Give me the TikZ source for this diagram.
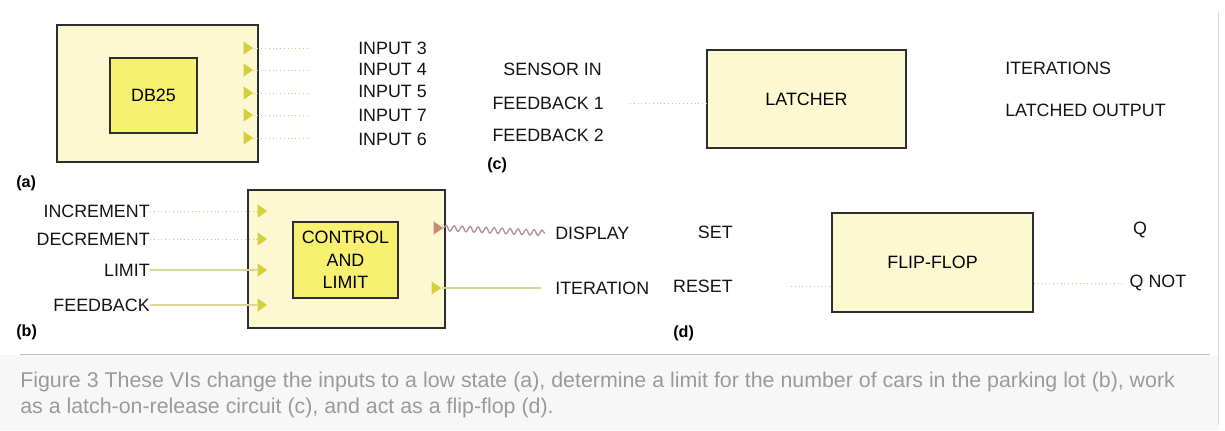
\documentclass[tikz,border=0pt]{standalone}
\usepackage{fontspec}
\setmainfont{Liberation Sans}
\usepackage{xcolor}
\usepackage{tikz}
\usetikzlibrary{shapes.geometric,positioning,calc,decorations.pathmorphing}

\definecolor{paleyel}{HTML}{FCF9D2}
\definecolor{brightyel}{HTML}{F8F070}
\definecolor{pinyel}{HTML}{D6CF3A}
\definecolor{wireyel}{HTML}{D8D49A}
\definecolor{pinred}{HTML}{C98A78}
\definecolor{wirered}{HTML}{B48C96}
\definecolor{frame}{HTML}{2E2E2E}
\definecolor{captgray}{HTML}{9A9A9A}

\tikzset{
	vibox/.style={draw=frame, line width=1.4pt, fill=paleyel, inner sep=0pt},
	subvi/.style={draw=frame, line width=1.4pt, fill=brightyel, inner sep=0pt, align=center},
	pin/.style={isosceles triangle, isosceles triangle apex angle=70, fill=pinyel, inner sep=0pt, minimum height=0.24cm, minimum width=0.18cm},
	lbl/.style={inner sep=0pt, text=black!92, font=\fontsize{12.7}{14}\selectfont},
	tag/.style={inner sep=0pt, font=\bfseries\fontsize{11.5}{13}\selectfont},
	dotwire/.style={draw=wireyel!80!gray, line width=0.7pt, dotted},
	solwire/.style={draw=wireyel, line width=1pt}
}

\begin{document}
\begin{tikzpicture}[x=0.025cm, y=-0.025cm]
		\useasboundingbox (0,0) rectangle (1225,430);
		\fill[white] (0,0) rectangle (1225,430);
		\fill[black!3] (0,355) rectangle (1218,430);
		\draw[black!25, line width=0.6pt] (20,354) -- (1210,354);
		\draw[black!15, line width=0.6pt] (1218,12) -- (1218,425);

		% (a) DB25
		\node[vibox, minimum width=5.025cm, minimum height=3.425cm] (dbvi) at (157.5,93.5) {};
		\node[subvi, minimum width=2.175cm, minimum height=1.875cm, font=\fontsize{12.7}{14}\selectfont] (db) at (153.5,95.5) {DB25};
		\foreach \n/\y in {3/48, 4/70, 5/93, 7/115, 6/138} {
			\node[pin] (pa\n) at (247,\y) {};
			\draw[dotwire] (pa\n.east) -- ++(55,0);
		}
		\node[lbl, anchor=west] (in3) at (358,48) {INPUT 3};
		\node[lbl, anchor=west] (in4) at (358,69) {INPUT 4};
		\node[lbl, anchor=west] (in5) at (358,91) {INPUT 5};
		\node[lbl, anchor=west] (in7) at (358,115) {INPUT 7};
		\node[lbl, anchor=west] (in6) at (358,139) {INPUT 6};
		\node[tag, anchor=west] (taga) at (16,183) {(a)};

		% (b) control and limit
		\node[vibox, minimum width=4.925cm, minimum height=3.45cm] (ctlvi) at (346.5,259) {};
		\node[subvi, minimum width=2.625cm, minimum height=1.9cm, font=\fontsize{12.7}{16}\selectfont] (ctl) at (345.5,260) {CONTROL\\AND\\LIMIT};
		\node[lbl, anchor=east] (inc) at (150,211) {INCREMENT};
		\node[lbl, anchor=east] (dec) at (150,239) {DECREMENT};
		\node[lbl, anchor=east] (lim) at (150,270) {LIMIT};
		\node[lbl, anchor=east] (fbk) at (150,305) {FEEDBACK};
		\node[pin] (pinc) at (261,211) {};
		\node[pin] (pdec) at (261,239) {};
		\node[pin] (plim) at (261,270) {};
		\node[pin] (pfbk) at (261,305) {};
		\draw[dotwire] (inc.east) -- (pinc.west);
		\draw[dotwire] (dec.east) -- (pdec.west);
		\draw[solwire] (lim.east) -- (plim.west);
		\draw[solwire] (fbk.east) -- (pfbk.west);
		\node[pin, fill=pinred] (pdisp) at (437,228) {};
		\node[pin] (piter) at (435,288) {};
		\node[lbl, anchor=west] (disp) at (555,233) {DISPLAY};
		\node[lbl, anchor=west] (iter) at (555,288) {ITERATION};
		\draw[draw=wirered, line width=0.9pt, decorate, decoration={snake, segment length=0.2cm, amplitude=0.07cm}] (pdisp.east) -- ($(disp.west)+(-10,0)$);
		\draw[solwire] (piter.east) -- ($(iter.west)+(-14,0)$);
		\node[tag, anchor=west] (tagb) at (16,332) {(b)};

		% (c) latcher
		\node[vibox, minimum width=4.975cm, minimum height=2.45cm, font=\fontsize{12.7}{14}\selectfont] (latch) at (806.5,99) {LATCHER};
		\node[lbl, anchor=east] (sens) at (602,69) {SENSOR IN};
		\node[lbl, anchor=east] (fb1) at (604,103) {FEEDBACK 1};
		\node[lbl, anchor=east] (fb2) at (604,135) {FEEDBACK 2};
		\node[lbl, anchor=west] (itrs) at (1005,68) {ITERATIONS};
		\node[lbl, anchor=west] (lout) at (1005,110) {LATCHED OUTPUT};
		\draw[dotwire] ($(fb1.east)+(26,0)$) -- (latch.west |- fb1);
		\node[tag, anchor=west] (tagc) at (487,165) {(c)};

		% (d) flip-flop
		\node[vibox, minimum width=5.025cm, minimum height=2.475cm, font=\fontsize{12.7}{14}\selectfont] (ff) at (932.5,262.5) {FLIP-FLOP};
		\node[lbl, anchor=east] (set) at (733,232) {SET};
		\node[lbl, anchor=east] (rst) at (733,286) {RESET};
		\node[lbl] (q) at (1140,230) {Q};
		\node[lbl] (qn) at (1158,283) {Q NOT};
		\draw[dotwire] ($(rst.east)+(58,0)$) -- (ff.west |- rst);
		\draw[dotwire] (ff.east |- qn) -- ($(qn.west)+(-6,0)$);
		\node[tag, anchor=west] (tagd) at (673,333) {(d)};

		% caption
		\node[anchor=north west, inner sep=0pt, text=captgray, align=left, font=\fontsize{15.2}{18.5}\selectfont] (capt) at (20,372) {Figure 3 These VIs change the inputs to a low state (a), determine a limit for the number of cars in the parking lot (b), work\\as a latch-on-release circuit (c), and act as a flip-flop (d).};
	\end{tikzpicture}
\end{document}
